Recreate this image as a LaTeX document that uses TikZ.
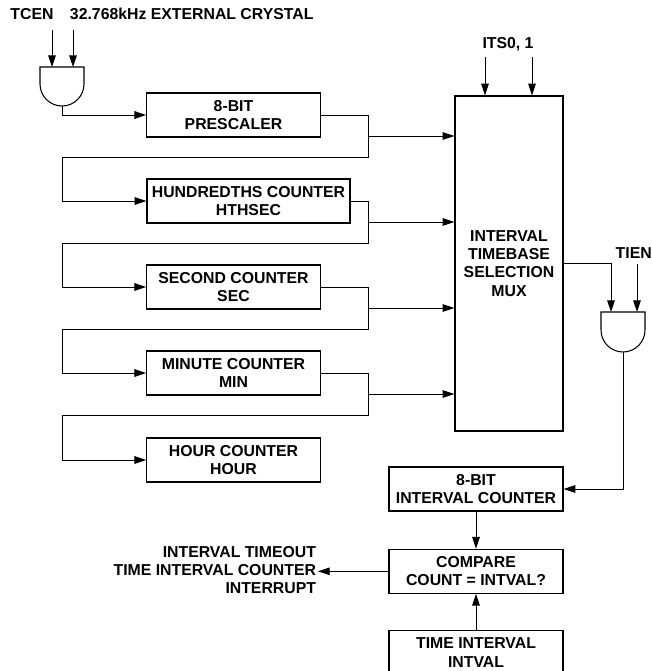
\documentclass[tikz,border=0pt]{standalone}
\usepackage{fontspec}
\setmainfont{Liberation Sans}
\usetikzlibrary{arrows.meta,positioning,calc}

\begin{document}
\begin{tikzpicture}[
    x=0.03cm, y=-0.03cm,
    mybox/.style={
    rectangle,
    draw=black,
    line width=1.1pt,
    align=center,
    inner sep=0pt,
    minimum width=5.2cm,
    minimum height=1.32cm,
    font=\bfseries\fontsize{13.5}{15.5}\selectfont},
    mylabel/.style={inner sep=1.5pt,font=\bfseries\fontsize{13.5}{15.5}\selectfont},
    mygate/.style={draw=black,line width=0.9pt},
    myarrow/.style={-{Triangle[length=10pt,width=6.5pt]},line width=0.8pt},
    node distance=1.1cm
    ]

    \useasboundingbox (0,0) rectangle (652,671);

    \node[mylabel] (tcen) at (32,14) {TCEN};
    \node[mylabel, anchor=west] (xtal) at (68,14) {32.768kHz EXTERNAL CRYSTAL};

    \coordinate (g1a) at (52,67);
    \coordinate (g1b) at (73,67);
    \coordinate (g1out) at (62,106);
    \draw[mygate] (40,67) -- (40,84) arc[start angle=180,end angle=360,radius=0.66cm] -- (84,67) -- cycle;
    \draw[myarrow] (52,30) -- (g1a);
    \draw[myarrow] (73,30) -- (g1b);

    \node[mybox] (pre) at (233.5,115) {8-BIT\\PRESCALER};
    \node[mybox, minimum width=6.09cm] (hth) at (248.5,201) {HUNDREDTHS COUNTER\\HTHSEC};
    \node[mybox] (sec) at (233.5,287) {SECOND COUNTER\\SEC};
    \node[mybox] (min) at (233.5,373) {MINUTE COUNTER\\MIN};
    \node[mybox] (hour) at (233.5,460) {HOUR COUNTER\\HOUR};

    \node[mybox, minimum width=3.24cm, minimum height=10.05cm] (mux) at (509,263.5)
        {INTERVAL\\TIMEBASE\\SELECTION\\MUX};

    \draw[myarrow] (g1out) |- (pre.west);

    \coordinate (rail) at (368,0);
    \coordinate (back) at (62,0);
    \foreach \a/\b in {pre/hth,hth/sec,sec/min,min/hour}{
      \coordinate (\a-tap) at ($(\a.center)+(0,21)$);
      \coordinate (\a-turn) at ($(\a.center)+(0,42)$);
      \draw[myarrow] (\a.east) -| (\a-turn -| rail) -- (\a-turn -| back) |- (\b.west);
      \draw[myarrow] (\a-tap -| rail) -- (\a-tap -| mux.west);
    }

    \node[mylabel] (its) at (508,44) {ITS0, 1};
    \coordinate (its1) at (485,57);
    \coordinate (its2) at (532,57);
    \draw[myarrow] (its1) -- (its1 |- mux.north);
    \draw[myarrow] (its2) -- (its2 |- mux.north);

    \coordinate (g2a) at (611,312);
    \coordinate (g2b) at (637,312);
    \coordinate (g2out) at (623,352);
    \draw[mygate] (601,312) -- (601,330) arc[start angle=180,end angle=360,radius=0.66cm] -- (645,312) -- cycle;
    \node[mylabel, inner sep=0pt, anchor=east] (tien) at (652,253) {TIEN};
    \coordinate (tien1) at (637,264);
    \draw[myarrow] (mux.east) -| (g2a);
    \draw[myarrow] (tien1) -- (g2b);

    \node[mybox, minimum width=5.22cm] (cnt) at (476,489) {8-BIT\\INTERVAL COUNTER};
    \node[mybox, minimum width=5.22cm, below=1.11cm of cnt] (cmp) {COMPARE\\COUNT = INTVAL?};
    \node[mybox, minimum width=5.22cm, below=1.08cm of cmp] (tiv) {TIME INTERVAL\\INTVAL};

    \draw[myarrow] (g2out) |- (cnt.east);
    \draw[myarrow] (cnt) -- (cmp);
    \draw[myarrow] (tiv) -- (cmp);

    \node[mylabel, align=right, anchor=east] (irq) at (318,570)
        {INTERVAL TIMEOUT\\TIME INTERVAL COUNTER\\INTERRUPT};
    \draw[myarrow] (cmp.west) -- (cmp.west -| irq.east);
\end{tikzpicture}
\end{document}
